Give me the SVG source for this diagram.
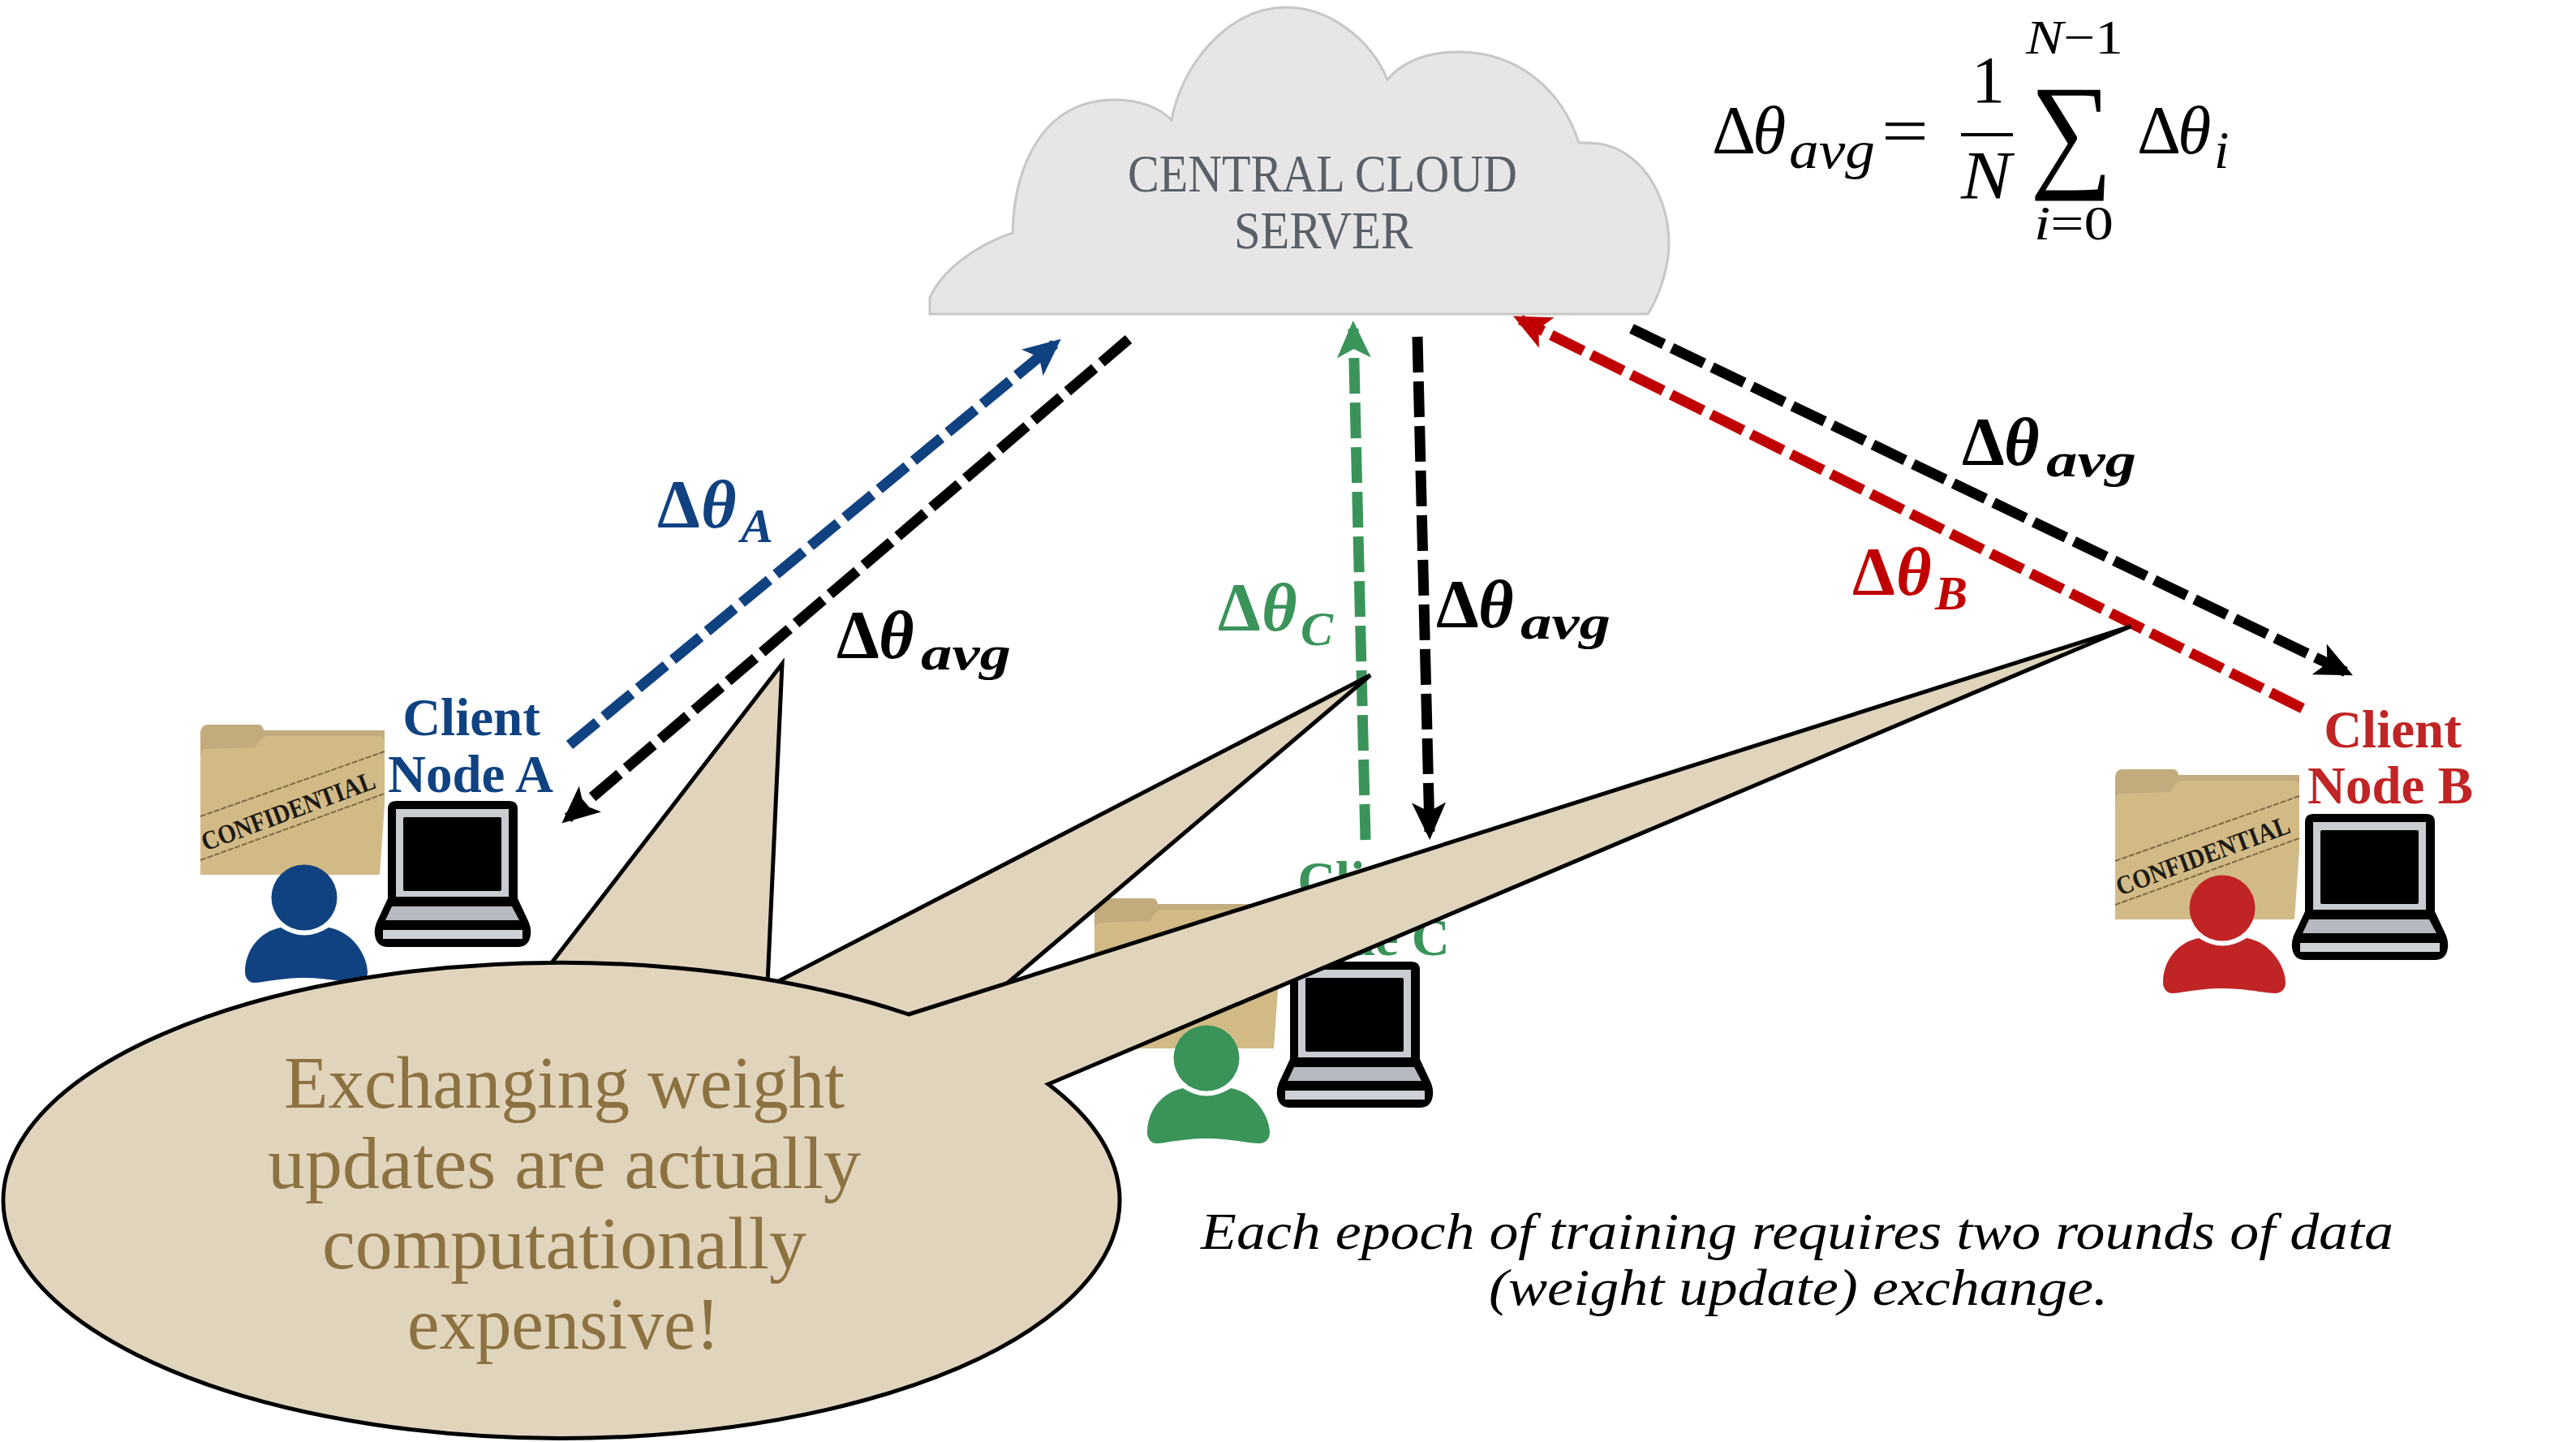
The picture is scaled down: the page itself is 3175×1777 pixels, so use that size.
<svg xmlns="http://www.w3.org/2000/svg" xmlns:xlink="http://www.w3.org/1999/xlink" width="3175" height="1777" viewBox="0 0 3175 1777">
<style>
text{font-family:"Liberation Serif","Times New Roman",serif}
.lab{font-weight:700;font-size:65px;text-anchor:middle}
.blue{fill:#104281}.red{fill:#C02424}.green{fill:#3A945A}
.dt{font-size:84px;font-weight:700}
.sub{font-size:60px;font-weight:700;font-style:italic}
.m{font-size:84px;font-style:italic}
.ms{font-size:60px;font-style:italic}
.conn{fill:none;stroke-width:13;stroke-dasharray:44 11}
.bub{fill:#E1D4BD;stroke:#000;stroke-width:5;stroke-linejoin:miter}
.bt{font-size:90px;fill:#8C7240}
.it{font-size:64px;font-style:italic;fill:#000}
</style>
<defs>
<marker id="hk" markerUnits="userSpaceOnUse" markerWidth="46" markerHeight="42" refX="36" refY="21" orient="auto"><polygon points="0,0 46,21 0,42 11,21" fill="#000"/></marker>
<marker id="hb" markerUnits="userSpaceOnUse" markerWidth="46" markerHeight="42" refX="36" refY="21" orient="auto"><polygon points="0,0 46,21 0,42 11,21" fill="#104281"/></marker>
<marker id="hg" markerUnits="userSpaceOnUse" markerWidth="46" markerHeight="42" refX="36" refY="21" orient="auto"><polygon points="0,0 46,21 0,42 11,21" fill="#3A945A"/></marker>
<marker id="hr" markerUnits="userSpaceOnUse" markerWidth="46" markerHeight="42" refX="36" refY="21" orient="auto"><polygon points="0,0 46,21 0,42 11,21" fill="#C00000"/></marker>
<g id="laptop">
<path d="M16,10Q16,0 26,0H166Q176,0 176,10V120L190,150Q193,158 192,165Q190,180 176,180H16Q2,180 0,165Q-1,158 2,150L16,120Z" fill="#000"/>
<rect x="26" y="10" width="139" height="108" fill="#C9CDD1"/>
<rect x="35" y="20" width="121" height="91" rx="2" fill="#000"/>
<polygon points="21,130 169,130 178,147 13,147" fill="#B6B9BF"/>
<rect x="10" y="159" width="172" height="11" fill="#CDD0D4"/>
</g>
<g id="folder">
<path d="M0,12Q0,0 10,0H72Q76,0 78,7H218Q227,7 227,20V100L221,185H0Z" fill="#D2BA87"/>
<path d="M0,12Q0,0 10,0H72Q76,0 78,7L227,7V20Q227,14 218,14H82Q76,14 68,28L6,30Q0,31 0,40Z" fill="#C2AC7D"/>
</g>
<g id="folderband">
<path d="M0,113L227,33M0,167L227,85" stroke="#7d6a45" stroke-width="2" stroke-dasharray="7 2" fill="none"/>
<text transform="translate(6,156) rotate(-20.3)" font-size="33" font-weight="700" fill="#1c1a14" textLength="226" lengthAdjust="spacingAndGlyphs">CONFIDENTIAL</text>
</g>
<g id="person">
<circle r="40.5"/>
<path d="M-29,37Q0,56 30,37C60,42 78,72 78,92C78,100 72,105 66,105C50,105 30,99 0,99C-30,99 -50,105 -62,105C-69,105 -73,98 -73,92C-73,65 -55,42 -29,37Z"/>
</g>
</defs>
<rect width="3175" height="1777" fill="#fff"/>

<g id="cloud">
<path d="M1146,387V367C1160,335 1200,303 1248,287C1250,205 1285,123 1374,123C1405,123 1430,133 1444,148C1455,85 1510,9 1585,9C1640,9 1690,50 1710,98C1730,75 1760,64 1798,64C1870,64 1925,110 1946,176H1958C2020,176 2057,240 2057,300C2057,330 2045,365 2031,387Z" fill="#E7E6E6" stroke="#C9C6C6" stroke-width="3"/>
<text x="1630" y="236" font-size="66" fill="#596068" text-anchor="middle" textLength="480" lengthAdjust="spacingAndGlyphs">CENTRAL CLOUD</text>
<text x="1631" y="306" font-size="66" fill="#596068" text-anchor="middle" textLength="220" lengthAdjust="spacingAndGlyphs">SERVER</text>
</g>

<g id="equation">
<text class="m" y="189"><tspan font-style="normal" x="2110">Δ</tspan><tspan x="2160">θ</tspan></text>
<text class="ms" x="2205" y="207" font-size="66" style="font-size:66px" textLength="106" lengthAdjust="spacingAndGlyphs">avg</text>
<text x="2319" y="189" font-size="82" textLength="58" lengthAdjust="spacingAndGlyphs">=</text>
<text x="2430" y="126" font-size="82" textLength="41" lengthAdjust="spacingAndGlyphs">1</text>
<rect x="2417" y="164" width="64" height="4"/>
<text class="m" x="2417" y="245" textLength="62" lengthAdjust="spacingAndGlyphs">N</text>
<text x="2502" y="214" font-size="158" textLength="102" lengthAdjust="spacingAndGlyphs">∑</text>
<text class="ms" x="2497" y="66" textLength="120" lengthAdjust="spacingAndGlyphs">N<tspan font-style="normal">−1</tspan></text>
<text class="ms" x="2507" y="295" textLength="98" lengthAdjust="spacingAndGlyphs">i<tspan font-style="normal">=0</tspan></text>
<text class="m" y="189"><tspan font-style="normal" x="2634">Δ</tspan><tspan x="2684">θ</tspan></text>
<text class="ms" x="2729" y="207" style="font-size:66px">i</text>
</g>

<g id="node-a">
<use href="#folder" x="247" y="893"/><use href="#folderband" x="247" y="893"/>
<use href="#person" x="375" y="1106" class="blue"/>
<use href="#laptop" x="462" y="987"/>
<text class="lab blue" x="581" y="906">Client</text>
<text class="lab blue" x="580" y="976">Node A</text>
</g>
<g id="node-b">
<use href="#folder" x="2607" y="948"/><use href="#folderband" x="2607" y="948"/>
<use href="#person" x="2739" y="1119" class="red"/>
<use href="#laptop" x="2825" y="1003"/>
<text class="lab red" x="2949" y="921">Client</text>
<text class="lab red" x="2946" y="990">Node B</text>
</g>
<g id="node-c">
<use href="#folder" x="1349" y="1107"/>
<use href="#person" x="1487" y="1304" class="green"/>
<use href="#laptop" x="1574" y="1185"/>
<text class="lab green" x="1684" y="1107">Client</text>
<text class="lab green" x="1683" y="1177">Node C</text>
</g>

<g id="connectors">
<path class="conn" d="M702,918L1300,424" stroke="#104281" marker-end="url(#hb)"/>
<path class="conn" d="M1391,418L700,1008" stroke="#000" marker-end="url(#hk)"/>
<path class="conn" d="M1683,1035L1668,405" stroke="#3A945A" marker-end="url(#hg)"/>
<path class="conn" d="M1747,415L1762,1025" stroke="#000" marker-end="url(#hk)"/>
<path class="conn" d="M2838,873L1874,394" stroke="#C00000" marker-end="url(#hr)"/>
<path class="conn" d="M2011,405L2891,828" stroke="#000" marker-end="url(#hk)"/>
</g>

<g id="labels">
<text class="dt" y="650" fill="#104281"><tspan x="810">Δ</tspan><tspan x="864" font-style="italic">θ</tspan></text>
<text class="sub" x="913" y="668" fill="#104281">A</text>
<text class="dt" y="811"><tspan x="1031">Δ</tspan><tspan x="1083" font-style="italic">θ</tspan></text>
<text class="sub" x="1135" y="825" textLength="111" lengthAdjust="spacingAndGlyphs">avg</text>
<text class="dt" y="777" fill="#3A945A"><tspan x="1501">Δ</tspan><tspan x="1555" font-style="italic">θ</tspan></text>
<text class="sub" x="1603" y="795" fill="#3A945A">C</text>
<text class="dt" y="773"><tspan x="1770">Δ</tspan><tspan x="1822" font-style="italic">θ</tspan></text>
<text class="sub" x="1874" y="787" textLength="111" lengthAdjust="spacingAndGlyphs">avg</text>
<text class="dt" y="573"><tspan x="2418">Δ</tspan><tspan x="2470" font-style="italic">θ</tspan></text>
<text class="sub" x="2522" y="587" textLength="111" lengthAdjust="spacingAndGlyphs">avg</text>
<text class="dt" y="733" fill="#C00000"><tspan x="2283">Δ</tspan><tspan x="2337" font-style="italic">θ</tspan></text>
<text class="sub" x="2385" y="751" fill="#C00000">B</text>
</g>

<g id="callout">
<path class="bub" d="M681,1185L964,818L942,1300Z"/>
<path class="bub" d="M960,1209L1689,832L1241,1212L1000,1300Z"/>
<path class="bub" d="M1120,1250L2626,772L1292,1336A688,293 0 1 1 1120,1250Z"/>
<text class="bt" x="350" y="1365" textLength="691" lengthAdjust="spacingAndGlyphs">Exchanging weight</text>
<text class="bt" x="330" y="1464" textLength="731" lengthAdjust="spacingAndGlyphs">updates are actually</text>
<text class="bt" x="397" y="1563" textLength="597" lengthAdjust="spacingAndGlyphs">computationally</text>
<text class="bt" x="502" y="1662" textLength="385" lengthAdjust="spacingAndGlyphs">expensive!</text>
</g>

<g id="note">
<text class="it" x="1480" y="1539" textLength="1470" lengthAdjust="spacingAndGlyphs">Each epoch of training requires two rounds of data</text>
<text class="it" x="1835" y="1608" textLength="763" lengthAdjust="spacingAndGlyphs">(weight update) exchange.</text>
</g>
</svg>
